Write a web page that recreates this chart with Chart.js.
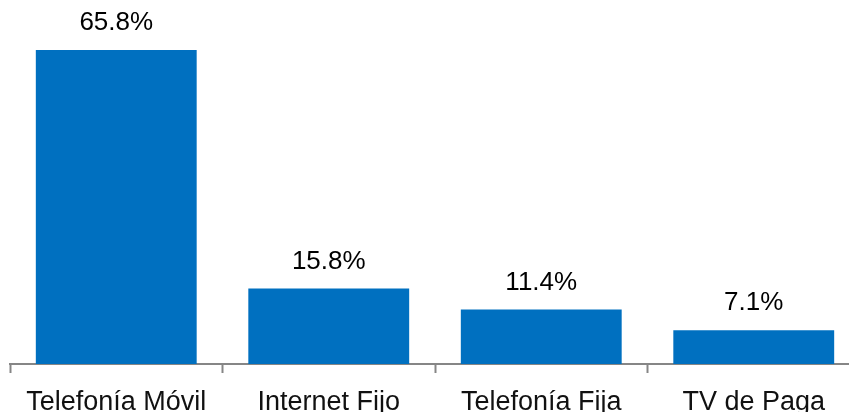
<!DOCTYPE html>
<html>
<head>
<meta charset="utf-8">
<script src="https://cdn.jsdelivr.net/npm/chart.js@4.4.0/dist/chart.umd.min.js"></script>
<style>
  html, body { margin: 0; padding: 0; background: #fff; overflow: hidden; }
  #wrap { width: 870px; height: 412px; }
</style>
</head>
<body>
<div id="wrap"><canvas id="chart" width="870" height="412"></canvas></div>
<script>
// datos del grafico
var categories = ["Telefonía Móvil", "Internet Fijo", "Telefonía Fija", "TV de Paga"];
var shares = [65.8, 15.8, 11.4, 7.1];

// etiquetas de valor encima de cada barra
var valueLabels = {
    id: "valueLabels",
    afterDatasetsDraw: function (chart) {
        var ctx = chart.ctx;
        var meta = chart.getDatasetMeta(0);
        ctx.save();
        ctx.font = "26px 'Liberation Sans', Arial, sans-serif";
        ctx.fillStyle = "#000";
        ctx.textAlign = "center";
        ctx.textBaseline = "middle";
        meta.data.forEach(function (bar, i) {
            ctx.fillText(shares[i].toFixed(1) + "%", bar.x, bar.y - 27);
        });
        ctx.restore();
    },
};

var ctx = document.getElementById("chart").getContext("2d");
var chart = new Chart(ctx, {
    type: "bar",
    data: {
        labels: categories,
        datasets: [
            {
                label: "",
                data: shares,
                backgroundColor: "#0070C0",
                borderWidth: 0,
                barPercentage: 0.757,
                categoryPercentage: 1,
            },
        ],
    },
    options: {
        responsive: false,
        animation: false,
        layout: { padding: { left: 10, right: 10, top: 0, bottom: 0 } },
        plugins: {
            legend: { display: false },
            tooltip: { enabled: false },
        },
        scales: {
            x: {
                offset: true,
                grid: {
                    offset: true,
                    drawOnChartArea: false,
                    drawTicks: true,
                    tickLength: 9,
                    tickWidth: 2,
                    tickColor: "#868686",
                },
                border: { color: "#868686", width: 2 },
                ticks: {
                    color: "#111",
                    padding: 13,
                    maxRotation: 0,
                    autoSkip: false,
                    font: { family: "'Liberation Sans', Arial, sans-serif", size: 27 },
                },
                afterFit: function (scale) {
                    scale.height = 48;
                },
            },
            y: {
                display: false,
                min: 0,
                max: 76.3,
            },
        },
    },
    plugins: [valueLabels],
});
</script>
</body>
</html>
